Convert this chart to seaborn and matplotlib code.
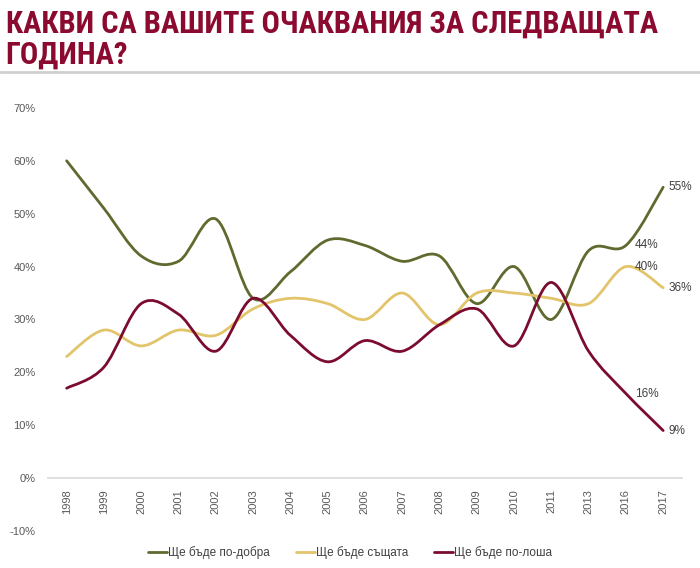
import matplotlib
matplotlib.use("Agg")
import matplotlib.pyplot as plt
from matplotlib.path import Path
from matplotlib.patches import PathPatch
from matplotlib.lines import Line2D
import seaborn as sns
import numpy as np

years = ["1998", "1999", "2000", "2001", "2002", "2003", "2004", "2005", "2006",
         "2007", "2008", "2009", "2010", "2011", "2013", "2016", "2017"]
better = [60, 51, 42, 41, 49, 34, 39, 45, 44, 41, 42, 33, 40, 30, 43, 44, 55]
same = [23, 28, 25, 28, 27, 32, 34, 33, 30, 35, 29, 35, 35, 34, 33, 40, 36]
worse = [17, 21, 33, 31, 24, 34, 27, 22, 26, 24, 29, 32, 25, 37, 24, 16, 9]
series_names = ["Ще бъде по-добра", "Ще бъде същата", "Ще бъде по-лоша"]
colors = ["#5f6a2f", "#e2c46b", "#7b0c2f"]
yticks = [-10, 0, 10, 20, 30, 40, 50, 60, 70]


def smooth_path(xs, ys):
    # excel-like smoothed line: cubic bezier with catmull-rom control points
    pts = np.column_stack([xs, ys]).astype(float)
    n = len(pts)
    verts = [pts[0]]
    codes = [Path.MOVETO]
    for i in range(n - 1):
        p0 = pts[i - 1] if i > 0 else pts[i]
        p1 = pts[i]
        p2 = pts[i + 1]
        p3 = pts[i + 2] if i + 2 < n else pts[i + 1]
        c1 = p1 + (p2 - p0) / 6.0
        c2 = p2 - (p3 - p1) / 6.0
        verts += [c1, c2, p2]
        codes += [Path.CURVE4] * 3
    return Path(verts, codes)


sns.set_theme(style="white")
plt.rcParams["font.family"] = ["Liberation Sans", "DejaVu Sans"]

fig = plt.figure(figsize=(7, 5.68), dpi=100)
ax = fig.add_axes([0.0686, 0.0651, 0.9054, 0.7449])

x = np.arange(len(years))
for vals, c in zip([better, same, worse], colors):
    ax.add_patch(PathPatch(smooth_path(x, vals), facecolor="none", edgecolor=c,
                           lw=2.0, capstyle="round", joinstyle="round"))

sns.despine(ax=ax, left=True, top=True, right=True)
ax.spines["bottom"].set_position(("data", 0))
ax.spines["bottom"].set_color("#d9d9d9")
ax.spines["bottom"].set_linewidth(1.2)

ax.set_xlim(-0.5, len(years) - 0.5)
ax.set_ylim(-10, 70)
ax.set_yticks(yticks)
ax.set_yticklabels([f"{v}%" for v in yticks], color="#595959", fontsize=8)
ax.set_xticks(x)
ax.set_xticklabels(years, rotation=90, color="#595959", fontsize=8)
ax.tick_params(axis="both", length=0)
ax.tick_params(axis="x", pad=8)
ax.tick_params(axis="y", pad=9)

# value labels: 2016 labels sit over the line, 2017 labels right of the end point
lab = dict(color="#404040", fontsize=8.5, va="center")
for vals in (better, same, worse):
    ax.text(x[-1] + 0.15, vals[-1], f"{vals[-1]}%", ha="left", **lab)
    ax.text(x[-2] + 0.55, vals[-2], f"{vals[-2]}%", ha="center", **lab)

handles = [Line2D([0], [0], color=c, lw=2) for c in colors]
fig.legend(handles, series_names, loc="center", bbox_to_anchor=(0.5, 0.027),
           ncol=3, frameon=False, fontsize=8.5, handlelength=1.6, handletextpad=0.1,
           columnspacing=2.2, labelcolor="#404040")

fig.text(0.008, 0.985, "КАКВИ СА ВАШИТЕ ОЧАКВАНИЯ ЗА СЛЕДВАЩАТА\nГОДИНА?",
         ha="left", va="top", fontsize=22, fontweight="bold", color="#8b0a30",
         linespacing=1.05, family=["Roboto Condensed", "DejaVu Sans"])
fig.add_artist(Line2D([0, 1], [1 - 72 / 568, 1 - 72 / 568], transform=fig.transFigure,
                      color="#cfcfcf", lw=2))

fig.savefig("out.png", dpi=100)
